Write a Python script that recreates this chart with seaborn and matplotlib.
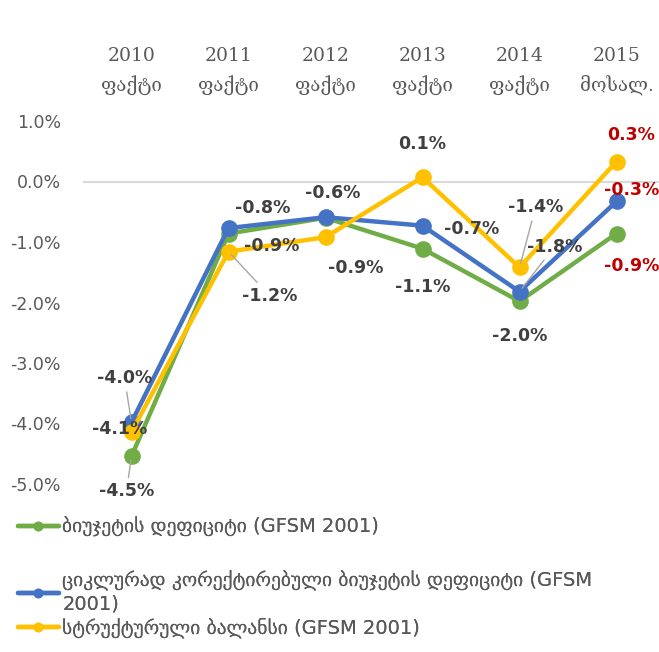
import seaborn as sns
import matplotlib.pyplot as plt
import pandas as pd
from matplotlib.lines import Line2D

years = ['2010', '2011', '2012', '2013', '2014', '2015']
kinds = ['ფაქტი', 'ფაქტი', 'ფაქტი', 'ფაქტი', 'ფაქტი', 'მოსალ.']

series_names = [
    'ბიუჯეტის დეფიციტი (GFSM 2001)',
    'ციკლურად კორექტირებული ბიუჯეტის დეფიციტი (GFSM\n2001)',
    'სტრუქტურული ბალანსი (GFSM 2001)',
]
deficit = [-4.54, -0.86, -0.60, -1.11, -1.98, -0.86]
cyclical = [-3.98, -0.77, -0.59, -0.73, -1.82, -0.33]
structural = [-4.14, -1.16, -0.92, 0.07, -1.42, 0.33]

colors = ['#70AD47', '#4472C4', '#FFC000']

df = pd.DataFrame({
    'pos': list(range(6)) * 3,
    'value': deficit + cyclical + structural,
    'series': [s for s in series_names for _ in range(6)],
})

sns.set_style('white')
plt.rcParams['font.family'] = ['DejaVu Sans']

fig = plt.figure(figsize=(6.59, 6.52), dpi=100)
ax = fig.add_axes([83 / 659, 168 / 652, 582 / 659, 363 / 652])

ax.axhline(0, color='#D9D9D9', lw=1.5, zorder=0)
sns.lineplot(data=df, x='pos', y='value', hue='series', hue_order=series_names,
             palette=colors, marker='o', markersize=12, markeredgewidth=0,
             linewidth=3.2, legend=False, ax=ax)

ax.set_xlim(-0.5, 5.5)
ax.set_ylim(-5, 1)
sns.despine(ax=ax, left=True, bottom=True)
ax.xaxis.tick_top()
ax.set_xticks(range(6))
ax.set_xticklabels([f'{y}\n{k}' for y, k in zip(years, kinds)],
                   family='DejaVu Serif', fontsize=13.5, color='#595959',
                   linespacing=1.6)
ax.set_yticks(range(-5, 2))
ax.set_yticklabels([f'{v:.1f}%' for v in range(-5, 2)], fontsize=12.5, color='#595959')
ax.tick_params(axis='x', length=0, pad=19)
ax.tick_params(axis='y', length=0, pad=16)
ax.set_xlabel('')
ax.set_ylabel('')

# data labels: (series index, point index) -> (dx, dy in pixels, leader line)
label_pos = {
    (1, 0): (-7, 44, True), (2, 0): (-12, 3, False), (0, 0): (-5, -35, True),
    (1, 1): (34, 20, False), (0, 1): (43, -12, False), (2, 1): (41, -44, True),
    (1, 2): (7, 24, False), (2, 2): (30, -31, False),
    (2, 3): (0, 33, False), (1, 3): (49, -3, False), (0, 3): (0, -38, False),
    (2, 4): (16, 60, True), (1, 4): (35, 45, True), (0, 4): (0, -35, False),
    (2, 5): (15, 27, False), (1, 5): (15, 11, False), (0, 5): (15, -32, False),
}
all_vals = [deficit, cyclical, structural]
for (si, pi), (dx, dy, leader) in label_pos.items():
    v = all_vals[si][pi]
    col = '#C00000' if pi == 5 else '#404040'
    arrow = dict(arrowstyle='-', color='#A6A6A6', lw=1, shrinkA=1, shrinkB=3) if leader else None
    ax.annotate(f'{v:.1f}%', xy=(pi, v), xytext=(dx, dy), textcoords='offset pixels',
                ha='center', va='center', fontsize=12.5, fontweight='bold',
                color=col, arrowprops=arrow, zorder=5)

# legend entries placed like the original
legend_y = [527, 592, 628]
for name, col, y in zip(series_names, colors, legend_y):
    h = Line2D([], [], color=col, lw=3.2, marker='o', markersize=7, markeredgewidth=0)
    leg = fig.legend([h], [name], loc='center left', bbox_to_anchor=(0, 1 - y / 652),
                     frameon=False, fontsize=14, handlelength=2.15, handletextpad=0.15,
                     labelcolor='#595959', labelspacing=0.1)
    fig.add_artist(leg)

fig.savefig('out.png', dpi=100)
